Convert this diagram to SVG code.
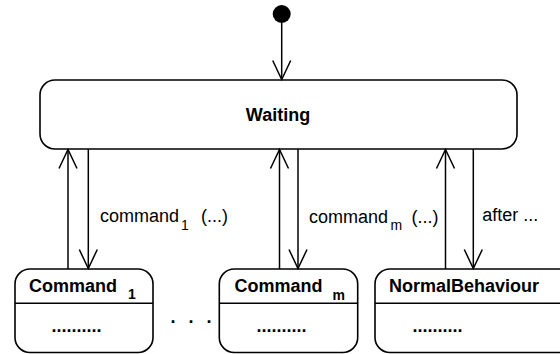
<svg xmlns="http://www.w3.org/2000/svg" width="560" height="354" viewBox="0 0 560 354">
<style>
.box{fill:#fff;stroke:#000;stroke-width:1.6}
.ln{fill:none;stroke:#000;stroke-width:1.5}
.b{font-family:"Liberation Sans",Arial,sans-serif;font-weight:bold;font-size:18px;fill:#000}
.bs{font-family:"Liberation Sans",Arial,sans-serif;font-weight:bold;font-size:14px;fill:#000}
.r{font-family:"Liberation Sans",Arial,sans-serif;font-size:18px;fill:#000}
.rs{font-family:"Liberation Sans",Arial,sans-serif;font-size:14px;fill:#000}
</style>
<defs>
<marker id="arr" markerUnits="userSpaceOnUse" markerWidth="30" markerHeight="30" refX="0" refY="0" orient="auto" overflow="visible">
<path d="M-19,-9 L0,0 L-19,9" fill="none" stroke="#000" stroke-width="1.5"/>
</marker>
</defs>
<g id="initial">
<circle cx="281.7" cy="14" r="9" fill="#000"/>
</g>
<g id="waiting">
<rect class="box" x="40" y="80" width="477" height="69" rx="15"/>
<text class="b" x="278" y="121" text-anchor="middle">Waiting</text>
</g>
<g id="command1">
<rect class="box" x="15" y="269" width="138" height="83.5" rx="15"/>
<line class="ln" x1="15" y1="303.3" x2="153" y2="303.3"/>
<text class="b" x="29" y="291.5">Command</text>
<text class="bs" x="128" y="299">1</text>
<text class="b" x="51.5" y="332">..........</text>
</g>
<g id="ellipsis">
<text class="b" x="170.5 188.5 206.5" y="323">...</text>
</g>
<g id="commandm">
<rect class="box" x="219.3" y="269" width="138.4" height="83.5" rx="15"/>
<line class="ln" x1="219.3" y1="303.3" x2="357.7" y2="303.3"/>
<text class="b" x="234.5" y="291.5">Command</text>
<text class="bs" x="332.5" y="300">m</text>
<text class="b" x="256.5" y="332">..........</text>
</g>
<g id="normal">
<rect class="box" x="375" y="269" width="200" height="83.5" rx="15"/>
<line class="ln" x1="375" y1="303.3" x2="575" y2="303.3"/>
<text class="b" x="389" y="291.5">NormalBehaviour</text>
<text class="b" x="412.5" y="332">..........</text>
</g>
<g id="connectors">
<line class="ln" x1="281.7" y1="23" x2="281.7" y2="79.5" marker-end="url(#arr)"/>
<line class="ln" x1="68" y1="269" x2="68" y2="149.5" marker-end="url(#arr)"/>
<line class="ln" x1="88.3" y1="149" x2="88.3" y2="268.5" marker-end="url(#arr)"/>
<line class="ln" x1="279.5" y1="269" x2="279.5" y2="149.5" marker-end="url(#arr)"/>
<line class="ln" x1="298" y1="149" x2="298" y2="268.5" marker-end="url(#arr)"/>
<line class="ln" x1="445.5" y1="269" x2="445.5" y2="149.5" marker-end="url(#arr)"/>
<line class="ln" x1="473.3" y1="149" x2="473.3" y2="268.5" marker-end="url(#arr)"/>
<text class="r" x="100" y="221.7">command</text>
<text class="rs" x="181" y="230">1</text>
<text class="r" x="201" y="221.7">(...)</text>
<text class="r" x="309" y="223">command</text>
<text class="rs" x="390.5" y="230">m</text>
<text class="r" x="411.5" y="223">(...)</text>
<text class="r" x="482.3" y="220.7">after ...</text>
</g>
</svg>
